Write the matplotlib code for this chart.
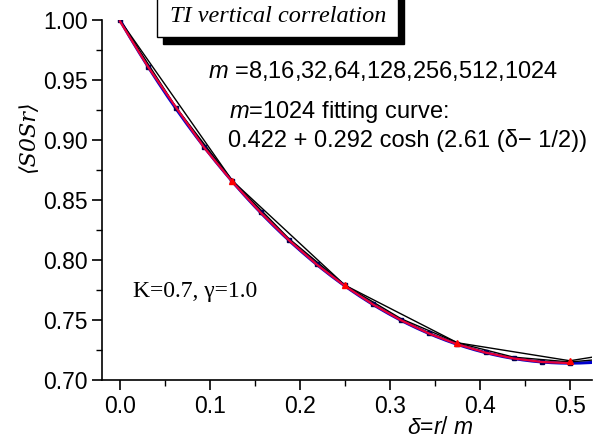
import matplotlib
matplotlib.use("Agg")
import matplotlib.pyplot as plt
from matplotlib.ticker import MultipleLocator, FormatStrFormatter
from matplotlib.patches import Rectangle
import numpy as np

# m=8 data (with mirrored point past 1/2)
d8 = [0.0, 0.125, 0.25, 0.375, 0.5, 0.625]
c8 = [1.000, 0.866, 0.779, 0.731, 0.716, 0.731]

# m=16 data
d16 = [0.0, 0.0625, 0.125, 0.1875, 0.25, 0.3125, 0.375, 0.4375, 0.5, 0.5625]
c16 = [1.000, 0.927, 0.866, 0.818, 0.779, 0.751, 0.731, 0.719, 0.715, 0.719]

# m=32 .. 1024 data, read on a 1/32 grid
d32 = [0.0, 0.03125, 0.0625, 0.09375, 0.125, 0.15625, 0.1875, 0.21875, 0.25,
       0.28125, 0.3125, 0.34375, 0.375, 0.40625, 0.4375, 0.46875, 0.5]
c32 = [1.000, 0.961, 0.927, 0.894, 0.866, 0.840, 0.817, 0.797, 0.779,
       0.763, 0.750, 0.739, 0.730, 0.723, 0.718, 0.715, 0.714]
c1024 = [0.999, 0.961, 0.927, 0.8935, 0.865, 0.8396, 0.8167, 0.7962, 0.7783,
         0.7629, 0.7497, 0.7386, 0.7297, 0.7228, 0.7179, 0.7150, 0.714]

# fit parameters from the chart text
fa, fb, fk = 0.422, 0.292, 2.61

W, H = 607, 447
plt.rcParams['font.family'] = ['Liberation Sans', 'DejaVu Sans']
plt.rcParams['mathtext.fontset'] = 'custom'
plt.rcParams['mathtext.it'] = 'Liberation Sans:italic'
plt.rcParams['mathtext.rm'] = 'Liberation Sans'
fig = plt.figure(figsize=(6.07, 4.47), dpi=100)
ax = fig.add_axes([0.168, 0.150, 0.807, 0.805])

xf = np.linspace(0.0, 0.53, 200)
ax.plot(xf, fa + fb * np.cosh(fk * (xf - 0.5)), color="#0000cc", lw=2.2, zorder=2)
ax.plot(d8, c8, color="black", lw=1.0, zorder=3)
ax.plot(d16, c16, color="black", lw=1.0, zorder=3)
ax.plot(d32, c32, color="#000050", lw=1.0, marker="s", ms=2.2, zorder=3)
ax.plot(d32, c1024, color="#e8003a", lw=1.6, zorder=4)
ax.plot(d8[1:5], c8[1:5], ls="none", marker="^", color="red", ms=4.5, zorder=5)

ax.set_xlim(-0.02, 0.5244)
ax.set_ylim(0.70, 1.00)
ax.spines['top'].set_visible(False)
ax.spines['right'].set_visible(False)
ax.xaxis.set_major_locator(MultipleLocator(0.1))
ax.xaxis.set_minor_locator(MultipleLocator(0.05))
ax.yaxis.set_major_locator(MultipleLocator(0.05))
ax.yaxis.set_minor_locator(MultipleLocator(0.025))
ax.xaxis.set_major_formatter(FormatStrFormatter('%.1f'))
ax.yaxis.set_major_formatter(FormatStrFormatter('%.2f'))
ax.tick_params(which='major', length=7, width=1.2, labelsize=16.5, direction='out')
ax.tick_params(which='minor', length=4, width=1.0, direction='out')
for s in ax.spines.values():
    s.set_linewidth(1.2)

serif = ['Liberation Serif', 'DejaVu Serif']


def px(x, y):
    return x / W, 1 - y / H


# y label
fig.text(*px(28, 137), "\u27e8S0Sr\u27e9", family=['DejaVu Serif'], style='italic',
         fontsize=16, rotation=90, ha='center', va='center')
# x label
fig.text(*px(440, 428), r"$\delta$=$r$/ $m$", fontsize=16.5, ha='center', va='center')

# title box with shadow
fig.patches.append(Rectangle(px(163, 44), 241 / W, 50 / H, transform=fig.transFigure,
                             fc='black', ec='black', zorder=1))
fig.patches.append(Rectangle(px(157, 37), 241 / W, 50 / H, transform=fig.transFigure,
                             fc='white', ec='black', lw=1.0, zorder=2))
fig.text(*px(278, 17), "TI vertical correlation", family=serif, style='italic',
         fontsize=17.5, ha='center', va='center', zorder=3)

fig.text(*px(208, 71), r"$m$ =8,16,32,64,128,256,512,1024", fontsize=17, va='center')
fig.text(*px(229, 112), r"$m$=1024 fitting curve:", fontsize=17, va='center')
fig.text(*px(228, 140), "0.422 + 0.292 cosh (2.61 (\u03b4\u2212 1/2))", fontsize=17, va='center')
fig.text(*px(133, 292), "K=0.7, \u03b3=1.0", family=serif, fontsize=17, va='center')

fig.savefig("out.png", dpi=100)
